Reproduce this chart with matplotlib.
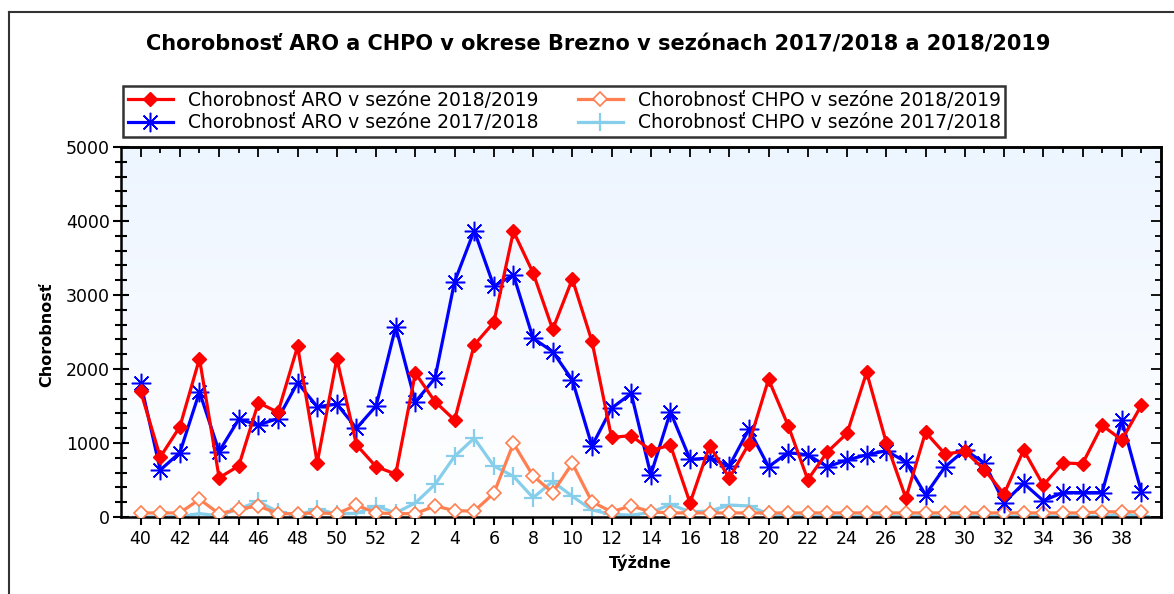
import numpy as np
import matplotlib
matplotlib.use('Agg')
import matplotlib.pyplot as plt
from matplotlib.colors import LinearSegmentedColormap
from matplotlib.lines import Line2D
from matplotlib.ticker import MultipleLocator, FixedLocator

# tyzdne sezony (40..52, 1..39)
weeks = list(range(40, 53)) + list(range(1, 40))

aro_1819 = [1700, 810, 1220, 2140, 530, 690, 1545, 1415, 2305, 735, 2140, 975, 680, 580,
            1945, 1560, 1310, 2325, 2630, 3860, 3300, 2535, 3215, 2375, 1075, 1100, 900,
            970, 190, 965, 525, 990, 1860, 1235, 505, 880, 1130, 1955, 1005, 255,
            1145, 850, 890, 640, 310, 905, 430, 730, 720, 1240, 1040, 1510]
aro_1718 = [1815, 635, 870, 1690, 885, 1320, 1245, 1330, 1815, 1490, 1525, 1200, 1500, 2570,
            1555, 1875, 3180, 3870, 3120, 3270, 2415, 2235, 1850, 960, 1470, 1670, 570,
            1420, 780, 795, 690, 1185, 680, 870, 840, 680, 770, 840, 895, 745,
            300, 680, 905, 730, 195, 455, 220, 330, 330, 330, 1310, 340]
chpo_1819 = [55, 55, 55, 240, 45, 105, 150, 45, 45, 55, 45, 160, 55, 45,
             45, 150, 85, 80, 320, 995, 555, 330, 725, 205, 70, 150, 70,
             55, 55, 55, 55, 55, 55, 55, 55, 55, 55, 55, 55, 55,
             55, 55, 55, 55, 55, 55, 55, 55, 55, 70, 70, 70]
chpo_1718 = [0, 0, 5, 45, 15, 110, 210, 70, 20, 110, 40, 50, 150, 55,
             190, 440, 820, 1065, 690, 550, 260, 480, 280, 95, 35, 25, 60,
             170, 70, 80, 160, 150, 40, 15, 10, 10, 10, 10, 10, 10,
             10, 10, 10, 10, 10, 10, 10, 10, 10, 10, 35, 10]

labels = ['Chorobnosť ARO v sezóne 2018/2019', 'Chorobnosť ARO v sezóne 2017/2018',
          'Chorobnosť CHPO v sezóne 2018/2019', 'Chorobnosť CHPO v sezóne 2017/2018']

x = np.arange(len(weeks))

W, H = 1174, 594
fig = plt.figure(figsize=(W / 100, H / 100), dpi=100)
plt.rcParams['font.family'] = ['DejaVu Sans']

ax = fig.add_axes([121 / W, 1 - 517 / H, (1161 - 121) / W, (517 - 147) / H])

# pozadie s prechodom
cmap = LinearSegmentedColormap.from_list('bg', ['#ffffff', '#edf5ff'])
grad = np.linspace(1, 0, 256).reshape(-1, 1)
ax.imshow(grad, extent=[-1, 52, 0, 5000], aspect='auto', cmap=cmap, zorder=0)

l4, = ax.plot(x, chpo_1718, color='#87ceeb', lw=2.3, marker='+', ms=13, mew=1.6, zorder=2)
l3, = ax.plot(x, chpo_1819, color='#ff7f50', lw=2.3, marker='D', ms=7, mfc='white',
              mec='#ff7f50', mew=1.2, zorder=3)
l2, = ax.plot(x, aro_1718, color='#0000ff', lw=2.3, marker=(8, 2, 0), ms=14, mew=1.1, zorder=4)
l1, = ax.plot(x, aro_1819, color='#ff0000', lw=2.3, marker='D', ms=7.5, zorder=5)

ax.set_xlim(-1, 52)
ax.set_ylim(0, 5000)

ax.xaxis.set_major_locator(FixedLocator(x[::2]))
ax.set_xticklabels([str(w) for w in weeks[::2]])
ax.xaxis.set_minor_locator(FixedLocator(x[1::2]))
ax.yaxis.set_major_locator(MultipleLocator(1000))
ax.yaxis.set_minor_locator(MultipleLocator(200))

ax.tick_params(axis='x', which='both', direction='out', length=6, width=1.5,
               labelsize=12.5, pad=3, top=False)
ax.tick_params(axis='y', which='major', direction='inout', length=12, width=1.5,
               labelsize=12.5, pad=2, right=False)
ax.tick_params(axis='y', which='minor', direction='inout', length=8, width=1.5, right=False)

top = ax.secondary_xaxis('top')
top.xaxis.set_major_locator(FixedLocator(x[::2]))
top.xaxis.set_minor_locator(FixedLocator(x[1::2]))
top.tick_params(which='major', direction='in', length=7, width=1.3, labeltop=False)
top.tick_params(which='minor', direction='in', length=4, width=1.3)
top.spines['top'].set_linewidth(1.8)

right = ax.secondary_yaxis('right')
right.yaxis.set_major_locator(MultipleLocator(1000))
right.yaxis.set_minor_locator(MultipleLocator(200))
right.tick_params(which='major', direction='in', length=7, width=1.3, labelright=False)
right.tick_params(which='minor', direction='in', length=4, width=1.3)
right.spines['right'].set_linewidth(1.8)

for s in ax.spines.values():
    s.set_linewidth(1.8)

fig.text(598 / W, 1 - 44 / H, 'Chorobnosť ARO a CHPO v okrese Brezno v sezónach 2017/2018 a 2018/2019',
         ha='center', va='center', fontsize=15, fontweight='bold')
fig.text(640 / W, 1 - 563 / H, 'Týždne', ha='center', va='center', fontsize=11.5, fontweight='bold')
fig.text(47 / W, 1 - 335 / H, 'Chorobnosť', ha='center', va='center', rotation=90,
         fontsize=11.5, fontweight='bold')

leg = fig.legend([l1, l2, l3, l4], labels, ncol=2, loc='upper left',
                 bbox_to_anchor=(123 / W, 1 - 86 / H), fontsize=13.5, frameon=True,
                 fancybox=False, edgecolor='black', handlelength=2.4, handletextpad=0.8,
                 columnspacing=2.1, labelspacing=0.2, borderpad=0.25, borderaxespad=0)
leg.get_frame().set_linewidth(1.8)

# ramcek okolo obrazku
fig.add_artist(Line2D([9 / W, 9 / W], [0, 1 - 12 / H], color='#333333', lw=1.5))
fig.add_artist(Line2D([9 / W, 1], [1 - 12 / H, 1 - 12 / H], color='#333333', lw=1.5))

fig.savefig('out.png', dpi=100)
